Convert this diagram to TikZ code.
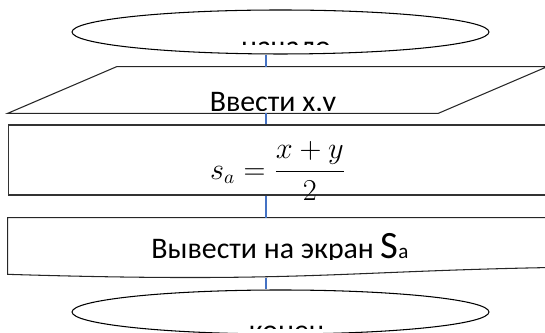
\documentclass[tikz,border=0pt]{standalone}
\usepackage{amsmath}
\usepackage{fontspec}
\setmainfont{Carlito}
\usetikzlibrary{shapes.geometric}
\definecolor{linkblue}{RGB}{68,114,196}
\tikzset{
  startstop/.style={ellipse, minimum width=8.34cm, minimum height=0.88cm, inner sep=0pt, draw=black, line width=0.6pt},
  iobox/.style={rectangle, minimum width=10.78cm, minimum height=0.92cm, inner sep=0pt},
  process/.style={rectangle, minimum width=11.04cm, minimum height=1.4cm, inner sep=0pt, draw=black!80, line width=0.6pt},
  docbox/.style={rectangle, minimum width=13.6cm, minimum height=1.2cm, inner sep=0pt},
  outline/.style={draw=black!85, line width=0.6pt},
  txt/.style={font=\fontsize{17}{20}\selectfont, inner sep=0pt, anchor=base},
  link/.style={draw=linkblue, line width=0.6pt}
}
\begin{document}
\begin{tikzpicture}[x=0.02cm, y=-0.02cm]
        \useasboundingbox (0,0) rectangle (545,333);
        \clip (0,0) rectangle (545,333);
        \coordinate (axis) at (266,0);

        % Блоки схемы
        \node (start) [startstop] at (280.5,32) {};
        \node (input) [iobox] at (277.5,90) {};
        \draw [outline] (input.south west) -- ([xshift=-2.18cm]input.south east) -- (input.north east) -- ([xshift=2.18cm]input.north west) -- cycle;
        \node (calc) [process] at (284,160) {};
        \node (output) [docbox] at (348,248) {};
        \draw [outline] (output.north west) -- (output.north east) -- ([yshift=0.24cm]output.south east) .. controls ([yshift=0.24cm]output.south) and ([yshift=-0.128cm]output.south) .. ([yshift=0.08cm]output.south west) -- cycle;
        \node (stop) [startstop] at (280.5,312) {};

        % Надписи (низ текста обрезан)
        \begin{scope}
          \clip (60,0) rectangle (500,45);
          \node (startlbl) [txt] at (286,57) {начало};
        \end{scope}
        \begin{scope}
          \clip (0,60) rectangle (545,111);
          \node (inputlbl) [txt] at (273,112) {Ввести x,y};
        \end{scope}
        \node (calclbl) [font=\fontsize{16}{19}\selectfont, inner sep=0pt] at (278,171) {$\displaystyle s_a=\frac{x+y}{2}$};
        \begin{scope}
          \clip (0,220) rectangle (545,260);
          \node (outputlbl) [txt] at (280,259) {Вывести на экран {\fontsize{22}{24}\selectfont S}{\fontsize{12}{14}\selectfont a}};
        \end{scope}
        \begin{scope}
          \clip (60,290) rectangle (500,329);
          \node (stoplbl) [txt] at (287,341) {конец};
        \end{scope}

        % Соединительные линии
        \draw [link] (start.south -| axis) -- (input.north -| axis);
        \draw [link] (input.south -| axis) -- (calc.north -| axis);
        \draw [link] (calc.south -| axis) -- (output.north -| axis);
        \draw [link] (output.south -| axis) -- (stop.north -| axis);

    \end{tikzpicture}
\end{document}
